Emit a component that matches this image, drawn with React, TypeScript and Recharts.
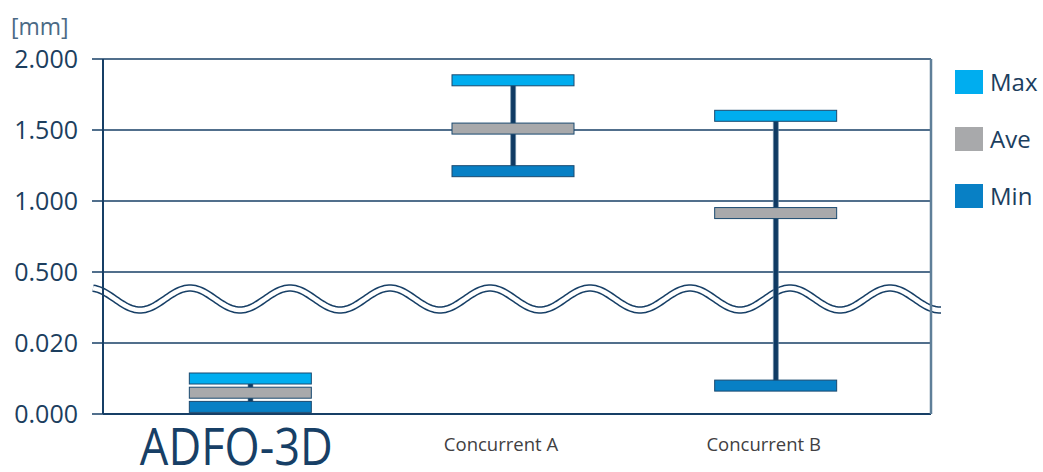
import {
  Bar,
  CartesianGrid,
  ComposedChart,
  Legend,
  ReferenceArea,
  Scatter,
  XAxis,
  YAxis,
} from "recharts";

// values in mm
const categories = ["ADFO-3D", "Concurrent A", "Concurrent B"];
const maxValues = [0.01, 1.85, 1.6];
const aveValues = [0.006, 1.51, 0.915];
const minValues = [0.002, 1.21, 0.008];

const yTickValues = [0, 0.02, 0.5, 1.0, 1.5, 2.0];
const yTickLabels = ["0.000", "0.020", "0.500", "1.000", "1.500", "2.000"];

const legendNames = ["Max", "Ave", "Min"];

const NAVY = "#173f66";
const TEXT = "#1c3e5e";
const FONT = "'Open Sans', sans-serif";

const seriesColors: Record<string, string> = { Max: "#00adef", Ave: "#a8a9ab", Min: "#0880c5" };

// broken axis: 0..0.02 and 0.5..2.0 mapped onto equal tick steps
const toAxis = (v: number) => {
  if (v <= 0.02) return v / 0.02;
  if (v >= 0.5) return 2 + (v - 0.5) / 0.5;
  return 1 + (v - 0.02) / 0.48;
};

const data = categories.map((name, i) => ({
  name,
  max: toAxis(maxValues[i]),
  ave: toAxis(aveValues[i]),
  min: toAxis(minValues[i]),
  range: [toAxis(minValues[i]), toAxis(maxValues[i])],
}));

const yTicks = yTickValues.map(toAxis);

const BarMark = (props: any) => {
  const { cx, cy, fill } = props;
  if (cx == null || cy == null) return null;
  return (
    <rect
      x={cx - 61}
      y={cy - 5.5}
      width={122}
      height={11}
      fill={fill}
      stroke="#1b4a70"
      strokeWidth={1}
    />
  );
};

const XTick = (props: any) => {
  const { x, y, payload } = props;
  if (payload.value === "ADFO-3D") {
    return (
      <text
        x={x - 14}
        y={y + 51}
        textAnchor="middle"
        fontSize={51}
        fontFamily={FONT}
        fill={NAVY}
        textLength={193}
        lengthAdjust="spacingAndGlyphs"
      >
        {payload.value}
      </text>
    );
  }
  return (
    <text
      x={x - 12}
      y={y + 37}
      textAnchor="middle"
      fontSize={18.5}
      fontFamily={FONT}
      fill="#414042"
    >
      {payload.value}
    </text>
  );
};

// the axis-break wave, drawn across the whole plot
const Wave = () => {
  const x0 = 93;
  const x1 = 942;
  const yc = 299;
  let d = "";
  for (let px = x0; px <= x1; px += 2) {
    const py = yc - 11 * Math.cos((2 * Math.PI * (px - 90)) / 100);
    d += (px === x0 ? "M" : "L") + px + "," + py.toFixed(2);
  }
  return (
    <g>
      <path d={d} fill="none" stroke={NAVY} strokeWidth={7.5} />
      <path d={d} fill="none" stroke="#fff" strokeWidth={4.5} />
    </g>
  );
};

const LegendContent = () => (
  <div style={{ position: "relative" }}>
    {legendNames.map((name, i) => (
      <div
        key={name}
        style={{
          position: "absolute",
          top: i * 57,
          left: 0,
          display: "flex",
          alignItems: "center",
          height: 30,
        }}
      >
        <span
          style={{
            width: 28,
            height: 24,
            background: seriesColors[name],
            display: "inline-block",
          }}
        />
        <span
          style={{
            marginLeft: 7,
            fontSize: 24,
            fontFamily: FONT,
            color: TEXT,
            lineHeight: "30px",
          }}
        >
          {name}
        </span>
      </div>
    ))}
  </div>
);

export default function App() {
  return (
    <div style={{ position: "absolute", left: 0, top: 0, background: "#fff" }}>
      <ComposedChart
        width={1043}
        height={472}
        data={data}
        margin={{ top: 59, right: 110, bottom: 0, left: 0 }}
      >
        <CartesianGrid
          vertical={false}
          stroke={NAVY}
          strokeWidth={1.5}
          horizontalValues={yTicks}
        />
        <XAxis
          dataKey="name"
          height={58}
          axisLine={{ stroke: NAVY, strokeWidth: 2 }}
          tickLine={false}
          tickSize={0}
          tickMargin={0}
          padding={{ left: 16, right: 24 }}
          tick={<XTick />}
          interval={0}
        />
        <YAxis
          type="number"
          domain={[0, 5]}
          ticks={yTicks}
          width={103}
          interval={0}
          tickFormatter={(v: number) => yTickLabels[yTicks.indexOf(v)] ?? ""}
          tickSize={11}
          tickMargin={14}
          tickLine={{ stroke: NAVY, strokeWidth: 1.5 }}
          axisLine={{ stroke: NAVY, strokeWidth: 2 }}
          tick={{ fontSize: 25, fill: TEXT, fontFamily: FONT }}
          label={{
            content: () => (
              <text x={11} y={35} fontSize={23} fontFamily={FONT} fill="#4b6a85">
                [mm]
              </text>
            ),
          }}
        />
        <YAxis
          yAxisId="right"
          orientation="right"
          domain={[0, 5]}
          width={2}
          tick={false}
          tickLine={false}
          axisLine={{ stroke: "#5f7f99", strokeWidth: 2.5 }}
        />
        <ReferenceArea y1={1.4} y2={1.8} fill="none" shape={<Wave />} ifOverflow="visible" />
        <Bar
          dataKey="range"
          barSize={5}
          fill="#0f3a63"
          stroke="#7090a8"
          strokeWidth={0.6}
          legendType="none"
          isAnimationActive={false}
        />
        <Scatter name="Max" dataKey="max" fill={seriesColors.Max} shape={<BarMark />} isAnimationActive={false} />
        <Scatter name="Ave" dataKey="ave" fill={seriesColors.Ave} shape={<BarMark />} isAnimationActive={false} />
        <Scatter name="Min" dataKey="min" fill={seriesColors.Min} shape={<BarMark />} isAnimationActive={false} />
        <Legend
          layout="horizontal"
          align="center"
          verticalAlign="middle"
          content={<LegendContent />}
          wrapperStyle={{ position: "absolute", left: 955, top: 67, width: 90, height: 170 }}
        />
      </ComposedChart>
    </div>
  );
}
